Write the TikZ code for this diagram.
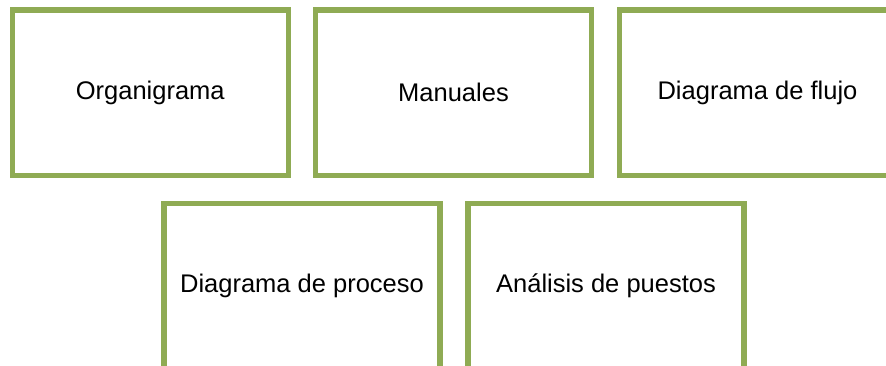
\documentclass[tikz,border=0pt]{standalone}
\usepackage{fontspec}
\setmainfont{Liberation Sans}
\definecolor{boxgreen}{RGB}{143,171,84}
\begin{document}
\begin{tikzpicture}[x=1pt,y=-1pt,
  itembox/.style={draw=boxgreen, line width=5.5pt, rectangle, minimum width=276pt, minimum height=165.5pt, inner sep=0pt, text=black, font=\fontsize{25.5}{30}\selectfont}]
\useasboundingbox (0,0) rectangle (886,366);
\clip (0,0) rectangle (886,366);
\node[itembox] (org) at (150.25,92.75) {Organigrama};
\node[itembox] (man) at (453.5,92.75) {Manuales};
\node[itembox] (flu) at (757.5,92.75) {Diagrama de flujo};
\node[itembox] (pro) at (302,286.25) {Diagrama de proceso};
\node[itembox] (ana) at (606,286.25) {Análisis de puestos};
\end{tikzpicture}
\end{document}
